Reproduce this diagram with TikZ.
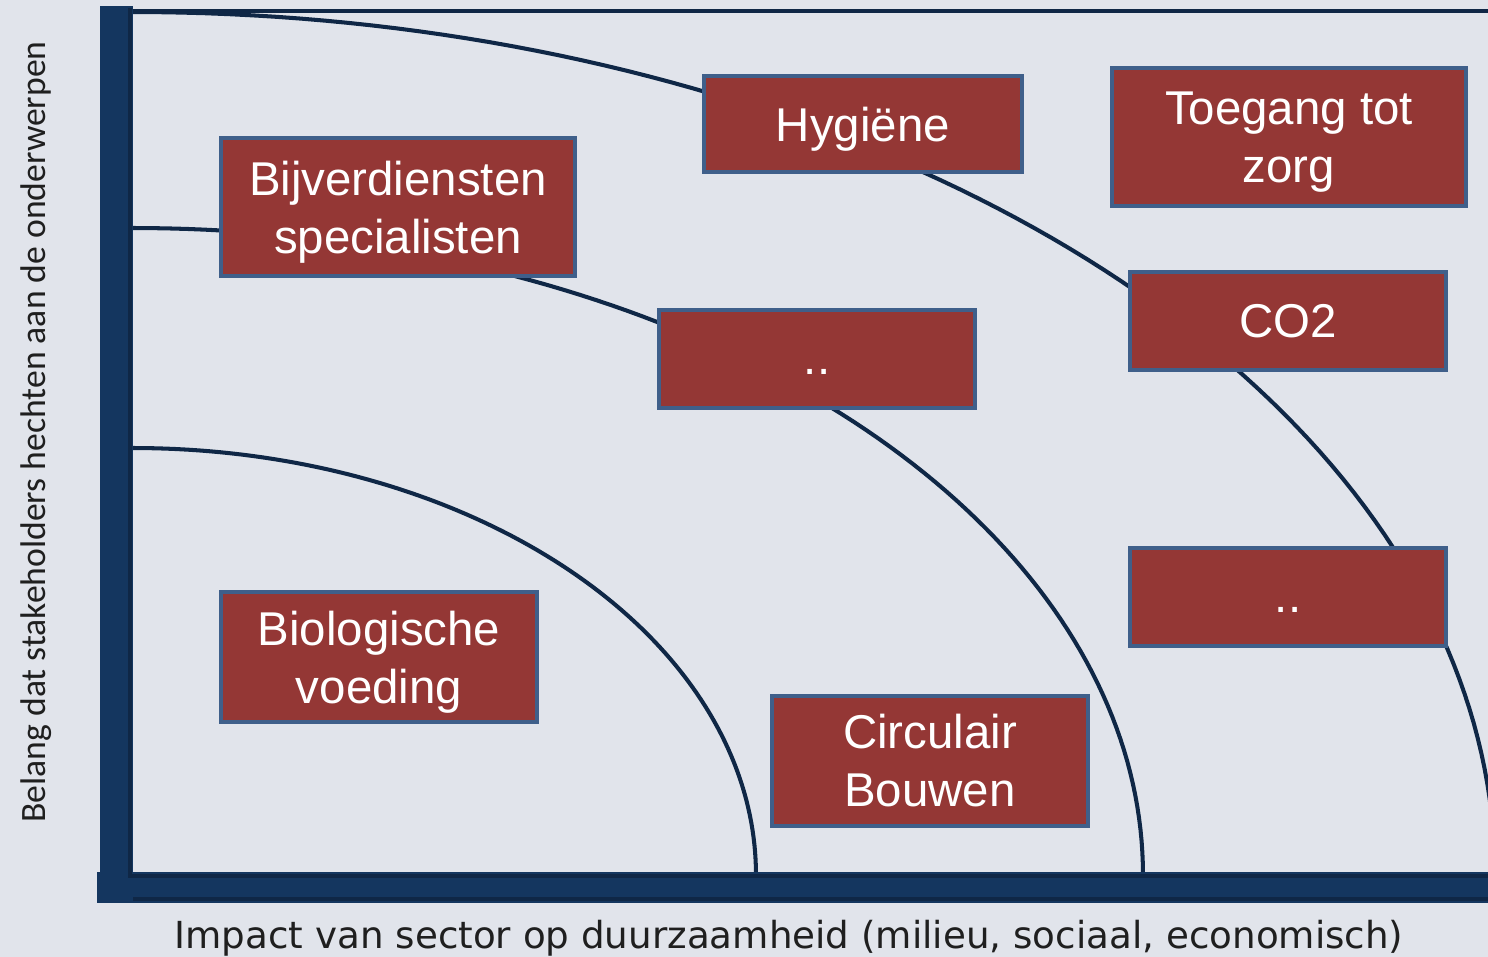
\documentclass[tikz,border=0pt]{standalone}
\usepackage{amsmath}
\usepackage{fontspec}
\setmainfont{Liberation Sans}
\newfontfamily\xlabelfont{DejaVu Sans}
\newfontfamily\ylabelfont{Carlito}
\usepackage{xcolor}
\usepackage{tikz}
\definecolor{bgcol}{HTML}{E1E4EB}
\definecolor{axiscol}{HTML}{14365F}
\definecolor{arccol}{HTML}{0F2746}
\definecolor{boxfill}{HTML}{943735}
\definecolor{boxline}{HTML}{3F5F8A}

\begin{document}
\begin{tikzpicture}[x=0.02cm,y=-0.02cm,
	topic/.style={draw=boxline,line width=2.3pt,fill=boxfill,text=white,align=center,
		inner sep=0pt,font=\fontsize{27}{33}\selectfont},
	ring/.style={draw=arccol,line width=2.3pt}]
			\useasboundingbox (0,0) rectangle (1488,957);
			\fill[bgcol] (0,0) rectangle (1488,957);
			%
			\begin{scope}
				\clip (0,0) rectangle (1488,957);
				\draw[ring] (133,11) -- (1488,11);
				\draw[ring] plot[domain=90:0,samples=90] ({133+1362*cos(\x)},{875-863*sin(\x)});
				\draw[ring] plot[domain=90:0,samples=90] ({133+1010*cos(\x)},{875-647*sin(\x)});
				\draw[ring] plot[domain=90:0,samples=90] ({133+623*cos(\x)},{875-427*sin(\x)});
			\end{scope}
			%
			\fill[axiscol] (100,6) rectangle (133,900);
			\fill[axiscol] (97,872) rectangle (1488,903);
			\draw[arccol,line width=2.5pt] (130,8) -- (130,876) -- (1488,876);
			\draw[arccol,line width=2pt] (133,899) -- (1488,899);
			%
			\node[topic,minimum width=6.36cm,minimum height=1.92cm] (hyg) at (863,124) {\smash[b]{Hygiëne}};
			\node[topic,minimum width=7.08cm,minimum height=2.76cm] (toeg) at (1289,137) {Toegang tot\\\smash[b]{zorg}};
			\node[topic,minimum width=7.1cm,minimum height=2.76cm] (bijv) at (398,207) {Bijverdiensten\\\smash[b]{specialisten}};
			\node[topic,minimum width=6.32cm,minimum height=1.96cm] (co) at (1288,321) {CO2};
			\node[topic,minimum width=6.34cm,minimum height=1.96cm] (midA) at (817,359) {\rule{0pt}{18pt}..};
			\node[topic,minimum width=6.32cm,minimum height=1.96cm] (midB) at (1288,597) {\rule{0pt}{18pt}..};
			\node[topic,minimum width=6.34cm,minimum height=2.6cm] (bio) at (379,657) {Biologische\\\smash[b]{voeding}};
			\node[topic,minimum width=6.32cm,minimum height=2.6cm] (circ) at (930,761) {Circulair\\Bouwen};
			%
			\node[font=\xlabelfont\fontsize{21.2}{25}\selectfont,text=black!88] (xlab) at (789,938)
				{Impact van sector op duurzaamheid (milieu, sociaal, economisch)};
			\node[rotate=90,font=\ylabelfont\fontsize{20.3}{24}\selectfont,text=black!88] (ylab) at (36,432)
				{Belang dat stakeholders hechten aan de onderwerpen};
		\end{tikzpicture}
\end{document}
